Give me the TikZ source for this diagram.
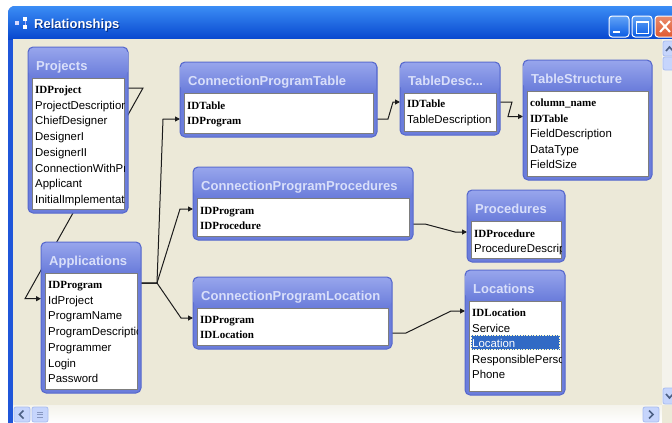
\documentclass[tikz,border=0pt]{standalone}
\usepackage{fontspec}
\setmainfont{Liberation Sans}
\newfontfamily\keyfont{Liberation Serif}
\usetikzlibrary{arrows.meta,calc}

\definecolor{winbg}{HTML}{ECE9D8}
\definecolor{winframe}{HTML}{1F56D9}
\definecolor{captop}{HTML}{3B8DF5}
\definecolor{capmid}{HTML}{0A5BE3}
\definecolor{capbot}{HTML}{0848CF}
\definecolor{frameblue}{HTML}{6B7DDB}
\definecolor{headtop}{HTML}{97A5EC}
\definecolor{frameedge}{HTML}{5567CC}
\definecolor{headtext}{HTML}{D9DFFA}
\definecolor{listedge}{HTML}{7D7D7D}
\definecolor{linkcol}{HTML}{1C1C1C}
\definecolor{selblue}{HTML}{316AC5}
\definecolor{sbtrack}{HTML}{F4F3EC}
\definecolor{sbbutton}{HTML}{C6D5FC}
\definecolor{sbedge}{HTML}{A9BDF0}
\definecolor{sbglyph}{HTML}{4D6185}
\definecolor{closered}{HTML}{E05A30}

\pgfdeclarelayer{chrome}
\pgfdeclarelayer{links}
\pgfsetlayers{chrome,links,main}

\tikzset{
  tblframe/.style={anchor=north west, inner sep=0, outer sep=0, fill=frameblue,
    draw=frameedge, line width=1pt, rounded corners=5},
  tblhead/.style={top color=headtop, bottom color=frameblue, rounded corners=5},
  tbltitle/.style={anchor=base west, inner sep=0, text=headtext,
    font=\bfseries\fontsize{13}{13}\selectfont},
  tbllist/.style={anchor=north west, inner sep=0, outer sep=0, fill=white,
    draw=listedge, line width=0.8pt},
  fieldrow/.style={anchor=west, inner sep=0, text height=13pt, text depth=2pt,
    font=\fontsize{11.4}{11.4}\selectfont, text=black},
  keyrow/.style={fieldrow, font=\keyfont\bfseries\fontsize{11}{11}\selectfont},
  relline/.style={draw=linkcol, line width=1pt, -{Triangle[length=5pt,width=5pt]}},
  sbbtn/.style={fill=sbbutton, draw=sbedge, line width=0.8pt, rounded corners=2},
  sbchev/.style={draw=sbglyph, line width=1.6pt},
}

% name, x1, y1, x2, y2, title
\newcommand\dbtable[6]{%
  \node[tblframe, minimum width={(#4-#2)*1pt}, minimum height={(#5-#3)*1pt}] (#1) at (#2,#3) {};
  \path[tblhead] ({#2+0.6},{#3+0.6}) rectangle ({#4-0.6},{#3+30});
  \node[tbltitle] (#1-title) at ({#2+8},{#3+23}) {#6};
  \node[tbllist, minimum width={(#4-#2-8)*1pt}, minimum height={(#5-#3-35)*1pt}] (#1-list) at ({#2+4},{#3+31}) {};
}
\newcommand\cliplist[1]{\clip (#1-list.north west) rectangle (#1-list.south east);}

\begin{document}
\begin{tikzpicture}[x=1pt,y=-1pt]
\useasboundingbox (0,0) rectangle (672,423);

% ---------- window chrome ----------
\begin{pgfonlayer}{chrome}
\fill[white] (0,0) rectangle (672,423);
\begin{scope}
  \clip[rounded corners=7] (8,6) rectangle (700,460);
  \fill[winframe] (8,6) rectangle (700,460);
  \shade[top color=captop, middle color=capmid, bottom color=capbot] (8,6) rectangle (700,39);
\end{scope}
\fill[winbg] (13,39) rectangle (672,423);

% caption icon
\fill[white!85!blue] (15,21) rectangle (19,25);
\fill[white] (23,17) rectangle (27,21);
\fill[white] (23,24.5) rectangle (27,29);
\draw[white!70!blue, line width=0.8pt] (25,21) -- (25,24.5);

% caption text
\node[anchor=base west, inner sep=0, text=capbot!60!black,
      font=\bfseries\fontsize{13}{13}\selectfont] (wintitle-shadow) at (35,29) {Relationships};
\node[anchor=base west, inner sep=0, text=white,
      font=\bfseries\fontsize{13}{13}\selectfont] (wintitle) at (34,28) {Relationships};

% caption buttons
\shade[top color=captop!80!white, bottom color=capmid, draw=white, line width=1pt, rounded corners=3]
  (609,16) rectangle (629,37);
\fill[white] (613,30.5) rectangle (620,33);
\shade[top color=captop!80!white, bottom color=capmid, draw=white, line width=1pt, rounded corners=3]
  (632,16) rectangle (652,37);
\draw[white, line width=1pt] (636,21) rectangle (648,33);
\draw[white, line width=2pt] (636,21.5) -- (648,21.5);
\shade[top color=closered!70!white, bottom color=closered, draw=white, line width=1pt, rounded corners=3]
  (655,16) rectangle (676,37);
\draw[white, line width=2pt] (660,21) -- (670,32) (670,21) -- (660,32);

% vertical scrollbar
\fill[sbtrack] (662,39) rectangle (672,405);
\path[sbbtn] (663,41) rectangle (680,56);
\draw[sbchev] (666,51) -- (669.5,47) -- (673,51);
\path[sbbtn] (663,57) rectangle (680,70);
\path[sbbtn] (663,388) rectangle (680,404);
\draw[sbchev] (666,394) -- (669.5,398) -- (673,394);

% horizontal scrollbar
\shade[top color=sbtrack, bottom color=white] (13,405) rectangle (662,423);
\fill[winbg] (662,405) rectangle (672,423);
\path[sbbtn] (14,407) rectangle (30,422);
\draw[sbchev] (23.5,410.5) -- (19.5,414.5) -- (23.5,418.5);
\path[sbbtn] (32,407) rectangle (48,422);
\draw[sbedge!80!black, line width=0.6pt] (37,412) -- (43,412) (37,414.5) -- (43,414.5) (37,417) -- (43,417);
\path[sbbtn] (643,407) rectangle (659,422);
\draw[sbchev] (649,410.5) -- (653,414.5) -- (649,418.5);
\end{pgfonlayer}

% ---------- tables ----------
\dbtable{projects}{28}{47}{128}{213}{Projects}
\begin{scope}
  \cliplist{projects}
  \node[keyrow]   (p-id)    at (35,88)    {IDProject};
  \node[fieldrow] (p-desc)  at (35,103.7) {ProjectDescription};
  \node[fieldrow] (p-chief) at (35,119.4) {ChiefDesigner};
  \node[fieldrow] (p-des1)  at (35,135.1) {DesignerI};
  \node[fieldrow] (p-des2)  at (35,150.8) {DesignerII};
  \node[fieldrow] (p-conn)  at (35,166.5) {ConnectionWithProgram};
  \node[fieldrow] (p-appl)  at (35,182.2) {Applicant};
  \node[fieldrow] (p-init)  at (35,197.9) {InitialImplementation};
\end{scope}

\dbtable{apps}{41}{242}{141}{393}{Applications}
\begin{scope}
  \cliplist{apps}
  \node[keyrow]   (a-idprog) at (48,283)   {IDProgram};
  \node[fieldrow] (a-idproj) at (48,298.7) {IdProject};
  \node[fieldrow] (a-name)   at (48,314.4) {ProgramName};
  \node[fieldrow] (a-desc)   at (48,330.1) {ProgramDescription};
  \node[fieldrow] (a-progr)  at (48,345.8) {Programmer};
  \node[fieldrow] (a-login)  at (48,361.5) {Login};
  \node[fieldrow] (a-pass)   at (48,377.2) {Password};
\end{scope}

\dbtable{cpt}{180}{62}{377}{137}{ConnectionProgramTable}
\begin{scope}
  \cliplist{cpt}
  \node[keyrow] (c1-idtab)  at (187,104) {IDTable};
  \node[keyrow] (c1-idprog) at (187,119) {IDProgram};
\end{scope}

\dbtable{td}{400}{62}{500}{135}{TableDesc...}
\begin{scope}
  \cliplist{td}
  \node[keyrow]   (t-id)   at (407,102) {IDTable};
  \node[fieldrow] (t-desc) at (407,118) {TableDescription};
\end{scope}

\dbtable{ts}{523}{60}{652}{180}{TableStructure}
\begin{scope}
  \cliplist{ts}
  \node[keyrow]   (s-col)  at (530,101)   {column\_name};
  \node[keyrow]   (s-id)   at (530,116.5) {IDTable};
  \node[fieldrow] (s-desc) at (530,132)   {FieldDescription};
  \node[fieldrow] (s-type) at (530,147.5) {DataType};
  \node[fieldrow] (s-size) at (530,163)   {FieldSize};
\end{scope}

\dbtable{cpp}{193}{167}{413}{240}{ConnectionProgramProcedures}
\begin{scope}
  \cliplist{cpp}
  \node[keyrow] (c2-idprog) at (200,209) {IDProgram};
  \node[keyrow] (c2-idproc) at (200,224) {IDProcedure};
\end{scope}

\dbtable{proc}{467}{190}{565}{262}{Procedures}
\begin{scope}
  \cliplist{proc}
  \node[keyrow]   (pr-id)   at (474,232) {IDProcedure};
  \node[fieldrow] (pr-desc) at (474,247) {ProcedureDescription};
\end{scope}

\dbtable{cpl}{193}{277}{392}{349}{ConnectionProgramLocation}
\begin{scope}
  \cliplist{cpl}
  \node[keyrow] (c3-idprog) at (200,318) {IDProgram};
  \node[keyrow] (c3-idloc)  at (200,333) {IDLocation};
\end{scope}

\dbtable{loc}{465}{270}{565}{395}{Locations}
\begin{scope}
  \cliplist{loc}
  \fill[selblue] (470.5,334.5) rectangle (559.5,349.5);
  \draw[densely dotted, draw=white!80!yellow, line width=0.6pt] (471,335) rectangle (559,349);
  \node[keyrow]   (l-id)   at (472,311)   {IDLocation};
  \node[fieldrow] (l-serv) at (472,326.5) {Service};
  \node[fieldrow, text=white] (l-loc) at (472,342) {Location};
  \node[fieldrow] (l-resp) at (472,357.5) {ResponsiblePerson};
  \node[fieldrow] (l-phone) at (472,373) {Phone};
\end{scope}

% ---------- relationship lines (drawn beneath the tables) ----------
\begin{pgfonlayer}{links}
\draw[relline] (p-id -| projects.east) -- ++(15,0)
  -- ($(a-idproj -| apps.west)+(-16,0)$) -- (a-idproj -| apps.west);
\draw[relline] (a-idprog -| apps.east) -- ++(16,0)
  -- ($(c1-idprog -| cpt.west)+(-17,0)$) -- (c1-idprog -| cpt.west);
\draw[relline] (a-idprog -| apps.east) -- ++(16,0)
  -- ($(c2-idprog -| cpp.west)+(-13,0)$) -- (c2-idprog -| cpp.west);
\draw[relline] (a-idprog -| apps.east) -- ++(16,0)
  -- ($(c3-idprog -| cpl.west)+(-12,0)$) -- (c3-idprog -| cpl.west);
\draw[relline] (c1-idprog -| cpt.east) -- ++(11,0)
  -- ($(t-id -| td.west)+(-7,0)$) -- (t-id -| td.west);
\draw[relline] (t-id -| td.east) -- ++(12,0)
  -- ($(s-id -| ts.west)+(-15,0)$) -- (s-id -| ts.west);
\draw[relline] (c2-idproc -| cpp.east) -- ++(12,0)
  -- ($(pr-id -| proc.west)+(-12,0)$) -- (pr-id -| proc.west);
\draw[relline] (c3-idloc -| cpl.east) -- ++(14,0)
  -- ($(l-id -| loc.west)+(-14,0)$) -- (l-id -| loc.west);
\end{pgfonlayer}
\end{tikzpicture}
\end{document}
